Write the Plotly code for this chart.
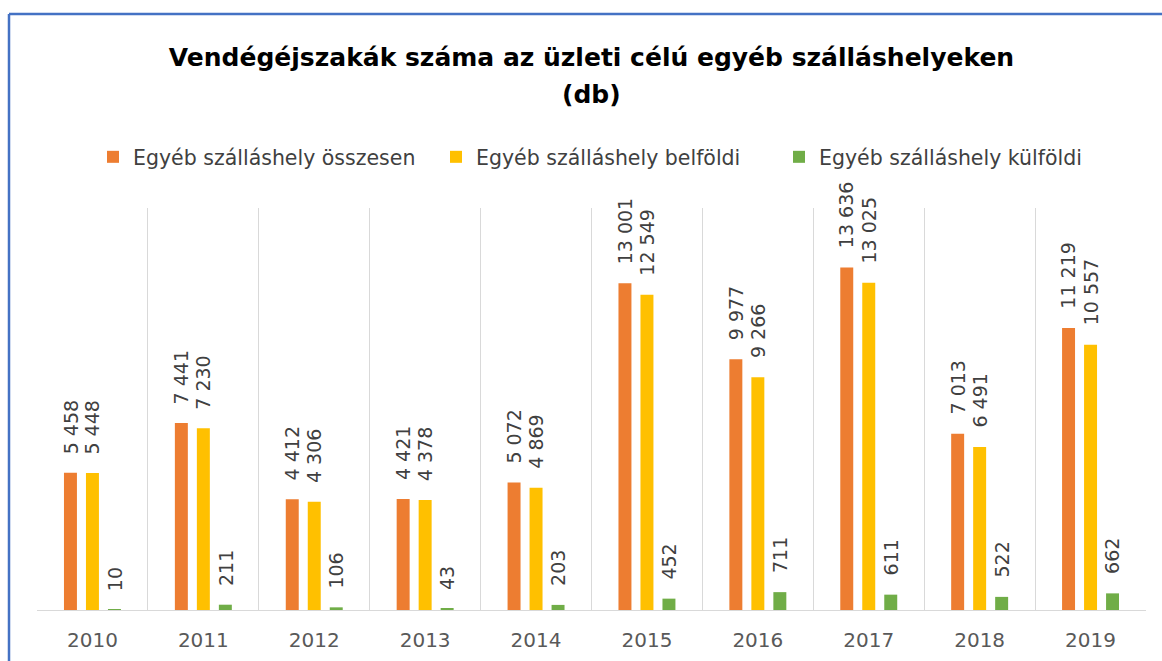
import plotly.graph_objects as go

years = ["2010", "2011", "2012", "2013", "2014", "2015", "2016", "2017", "2018", "2019"]
osszesen = [5458, 7441, 4412, 4421, 5072, 13001, 9977, 13636, 7013, 11219]
belfoldi = [5448, 7230, 4306, 4378, 4869, 12549, 9266, 13025, 6491, 10557]
kulfoldi = [10, 211, 106, 43, 203, 452, 711, 611, 522, 662]

series_names = ["Egyéb szálláshely összesen", "Egyéb szálláshely belföldi", "Egyéb szálláshely külföldi"]
series_values = [osszesen, belfoldi, kulfoldi]
colors = ["#ED7D31", "#FFC000", "#70AD47"]

def fmt(v):
    return f"{v:,}".replace(",", " ")

fig = go.Figure()
for name, vals, col in zip(series_names, series_values, colors):
    fig.add_trace(go.Bar(x=years, y=vals, name=name, marker_color=col, marker_line_width=0))

annotations = []
for i, vals in enumerate(series_values):
    for idx, v in enumerate(vals):
        annotations.append(dict(
            x=idx, y=v, xref="x", yref="y", text=fmt(v), showarrow=False,
            textangle=-90, xanchor="center", yanchor="bottom",
            xshift=(i - 1) * 22, yshift=17,
            font=dict(family="DejaVu Sans", size=19, color="#404040"),
        ))

L, R, T, B = 37, 16, 208, 51
W, H = 1162, 661
pw, ph = W - L - R, H - T - B

def px_x(p):
    return (p - L) / pw

def px_y(p):
    return (H - B - p) / ph

annotations.append(dict(
    x=0.5, y=px_y(95), xref="paper", yref="paper", text="<b>(db)</b>", showarrow=False,
    xanchor="center", yanchor="middle",
    font=dict(family="DejaVu Sans", size=25, color="#000000"),
))

shapes = [
    dict(type="line", xref="paper", yref="paper", x0=px_x(9), x1=px_x(1162), y0=px_y(14), y1=px_y(14),
         line=dict(color="#4472C4", width=2.5)),
    dict(type="line", xref="paper", yref="paper", x0=px_x(9), x1=px_x(9), y0=px_y(14), y1=px_y(661),
         line=dict(color="#4472C4", width=2.5)),
]

fig.update_layout(
    width=W, height=H, autosize=False,
    margin=dict(l=L, r=R, t=T, b=B, pad=0, autoexpand=False),
    paper_bgcolor="white", plot_bgcolor="white",
    barmode="group", bargap=0.405, bargroupgap=0.41,
    title=dict(text="<b>Vendégéjszakák száma az üzleti célú egyéb szálláshelyeken</b>",
               x=0.5, xref="paper", xanchor="center", y=1 - 57 / H, yanchor="middle",
               font=dict(family="DejaVu Sans", size=25, color="#000000")),
    legend=dict(orientation="h", x=(93) / W, xanchor="left", xref="container",
                y=1 - 157 / H, yanchor="middle", yref="container",
                font=dict(family="DejaVu Sans", size=20.5, color="#404040"),
                itemwidth=30, traceorder="normal", entrywidth=298, entrywidthmode="pixels"),
    xaxis=dict(type="category", range=[-0.5, 9.5], tickson="boundaries", showgrid=True,
               gridcolor="#D9D9D9", gridwidth=1, automargin=False, tickangle=0,
               showline=True, linecolor="#D9D9D9", linewidth=1, ticks="",
               tickfont=dict(family="DejaVu Sans", size=20, color="#595959"), ticklabelstandoff=12),
    yaxis=dict(range=[0, 16000], showgrid=False, showticklabels=False, zeroline=False, showline=False,
               automargin=False),
    annotations=annotations,
    shapes=shapes,
    showlegend=True,
)

fig.write_html("out.html", config={"displayModeBar": False},
               post_script="document.body.style.margin='0';document.body.style.overflow='hidden';")
